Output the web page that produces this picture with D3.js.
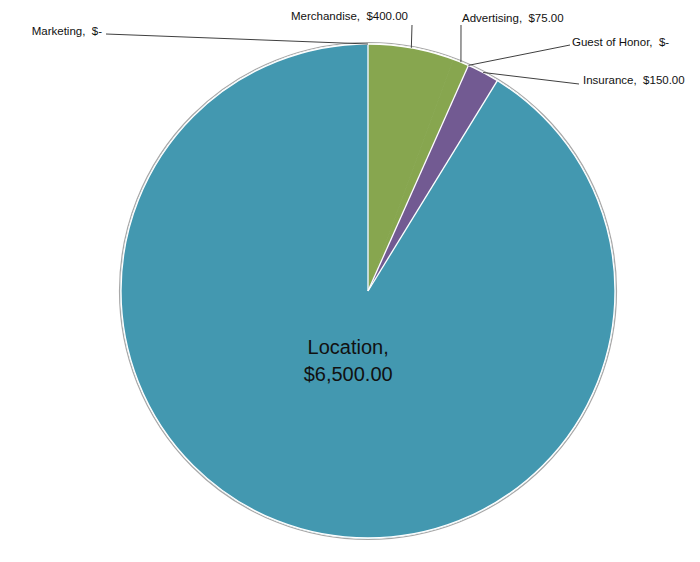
<!DOCTYPE html>
<html>
<head>
<meta charset="utf-8">
<script src="https://cdn.jsdelivr.net/npm/d3@7"></script>
<style>
  body { margin: 0; background: #fff; }
  text { font-family: "Liberation Sans", Arial, sans-serif; white-space: pre; }
</style>
</head>
<body>
<div id="chart"></div>
<script>
const categories = ["Marketing", "Merchandise", "Advertising", "Guest of Honor", "Insurance", "Location"];
const values = [0, 400, 75, 0, 150, 6500];
const colors = ["#4398B0", "#87A64F", "#87A64F", "#725A92", "#725A92", "#4398B0"];

// where each outside label sits: text anchor point + start of its leader line
const labelLayout = {
  "Marketing":      { x: 102, y: 35, anchor: "end",   lx: 106, ly: 34 },
  "Merchandise":    { x: 291, y: 20, anchor: "start", lx: 412, ly: 25 },
  "Advertising":    { x: 462, y: 22, anchor: "start", lx: 461, ly: 25 },
  "Guest of Honor": { x: 572, y: 46, anchor: "start", lx: 570, ly: 45 },
  "Insurance":      { x: 583, y: 84, anchor: "start", lx: 579, ly: 84 }
}

const width = 700, height = 562
const cx = 368, cy = 291, radius = 247

const money = d3.format("$,.2f")
const fmt = v => v === 0 ? "$-" : money(v)

const svg = d3.select("#chart")
  .append("svg")
  .attr("width", width)
  .attr("height", height)

const g = svg.append("g").attr("transform", "translate(" + cx + "," + cy + ")")

const pie = d3.pie().sort(null).value(d => d.value)
const arcs = pie(categories.map((c, i) => ({ name: c, value: values[i], color: colors[i] })))

const arcGen = d3.arc().innerRadius(0).outerRadius(radius)
const edgeArc = d3.arc().innerRadius(radius).outerRadius(radius)

// soft grey rim outside the white edge
g.append("circle")
  .attr("r", radius + 1.5)
  .attr("fill", "none")
  .attr("stroke", "#a8a8a8")
  .attr("stroke-width", 1.2)

// stroke in own colour so same-coloured neighbours don't show a seam
g.selectAll("path.slice")
  .data(arcs.filter(d => d.value > 0))
  .enter()
  .append("path")
  .attr("class", "slice")
  .attr("d", arcGen)
  .attr("fill", d => d.data.color)
  .attr("stroke", d => d.data.color)
  .attr("stroke-width", 0.8)

// white separators only where the colour changes
const nonZero = arcs.filter(d => d.value > 0)
const seps = nonZero.filter((d, i) => {
  const prev = nonZero[(i - 1 + nonZero.length) % nonZero.length]
  return prev.data.color !== d.data.color
})
g.selectAll("line.sep")
  .data(seps)
  .enter()
  .append("line")
  .attr("class", "sep")
  .attr("x1", 0).attr("y1", 0)
  .attr("x2", d => d3.pointRadial(d.startAngle, radius)[0])
  .attr("y2", d => d3.pointRadial(d.startAngle, radius)[1])
  .attr("stroke", "#fff")
  .attr("stroke-width", 1.3)

g.append("circle")
  .attr("r", radius)
  .attr("fill", "none")
  .attr("stroke", "#fff")
  .attr("stroke-width", 1.3)

// outside labels with leader lines
const outside = arcs.filter(d => labelLayout[d.data.name])

svg.selectAll("polyline.leader")
  .data(outside)
  .enter()
  .append("polyline")
  .attr("class", "leader")
  .attr("fill", "none")
  .attr("stroke", "#404040")
  .attr("stroke-width", 1)
  .attr("points", d => {
    const L = labelLayout[d.data.name]
    const p = edgeArc.centroid(d)
    return [[L.lx, L.ly], [p[0] + cx, p[1] + cy]]
  })

svg.selectAll("text.lbl")
  .data(outside)
  .enter()
  .append("text")
  .attr("class", "lbl")
  .attr("x", d => labelLayout[d.data.name].x)
  .attr("y", d => labelLayout[d.data.name].y)
  .attr("text-anchor", d => labelLayout[d.data.name].anchor)
  .attr("font-size", "11.5px")
  .attr("fill", "#111")
  .text(d => d.data.name + ",  " + fmt(d.data.value))

// big label inside the largest slice
const big = arcs[categories.indexOf("Location")]
const innerArc = d3.arc().innerRadius(0).outerRadius(146)
const bc = innerArc.centroid(big)
const bigText = g.append("text")
  .attr("text-anchor", "middle")
  .attr("font-size", "20px")
  .attr("fill", "#111")
  .attr("transform", "translate(" + bc[0] + "," + bc[1] + ")")
bigText.append("tspan").attr("x", 0).attr("y", -7).text(big.data.name + ",")
bigText.append("tspan").attr("x", 0).attr("y", 20).text(fmt(big.data.value))
</script>
</body>
</html>
